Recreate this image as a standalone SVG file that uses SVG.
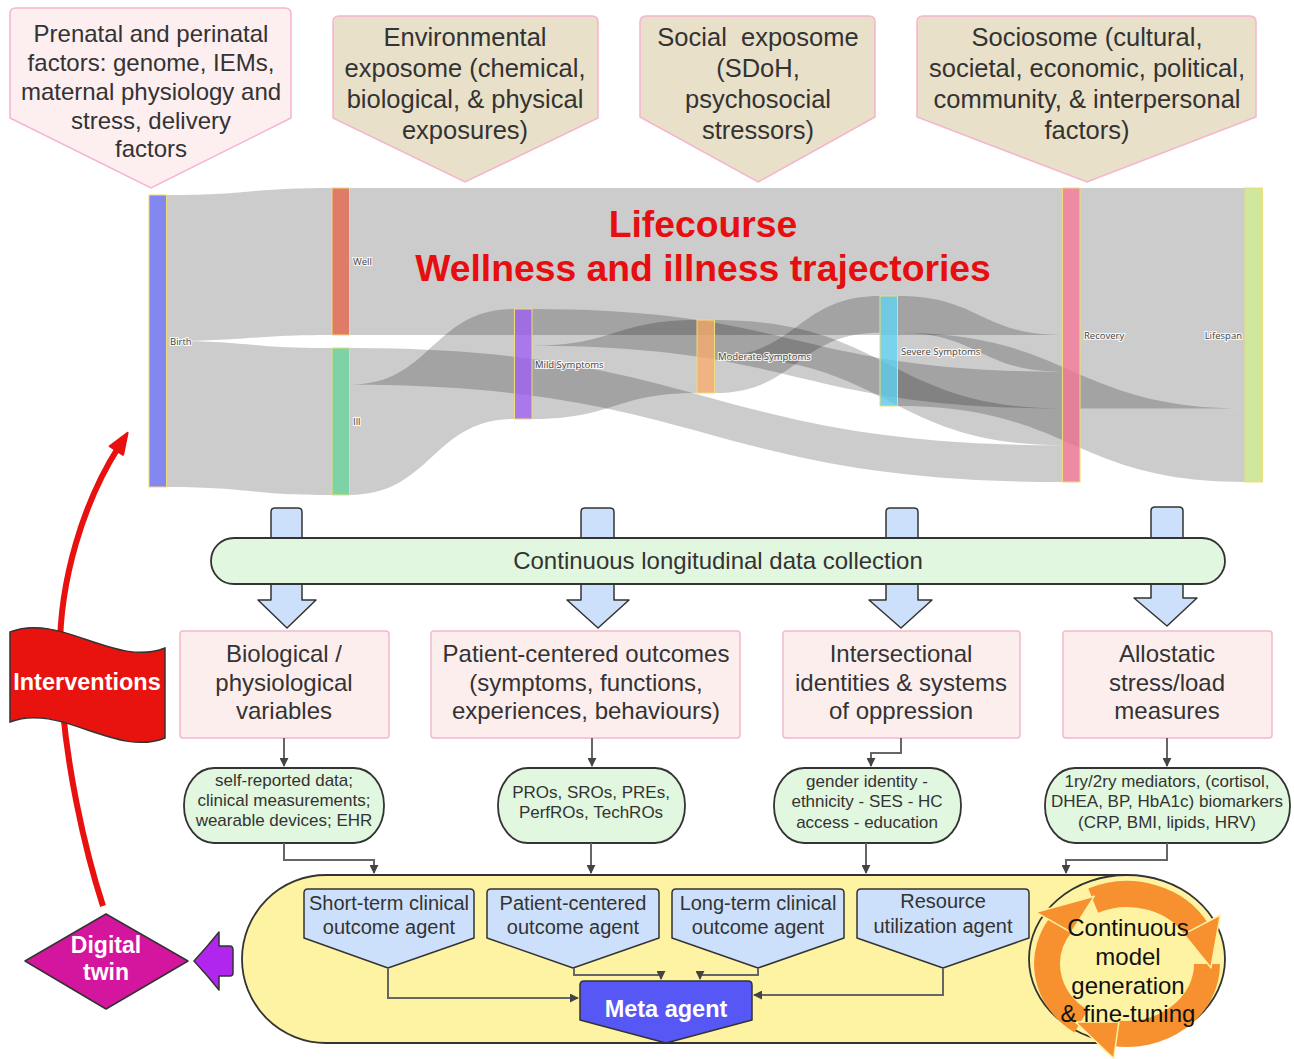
<svg xmlns="http://www.w3.org/2000/svg" width="1294" height="1059" viewBox="0 0 1294 1059">
<defs>
<style>
.t{font-family:"Liberation Sans",Arial,sans-serif;fill:#333;text-anchor:middle}
.hd{font-size:25.5px}
.pk{font-size:24px}
.gn{font-size:17px}
.ag{font-size:20px}
.wb{font-family:"Liberation Sans",Arial,sans-serif;fill:#fff;font-weight:bold;text-anchor:middle}
.lk{fill:rgba(0,0,0,0.2)}
.nd{stroke:#f0dc78;stroke-width:1;fill-opacity:0.8}
.lb{font-family:"Open Sans","DejaVu Sans",sans-serif;font-size:9.5px;fill:#444;stroke:#fff;stroke-width:2.2;stroke-opacity:0.85;paint-order:stroke;dominant-baseline:central}
.hdr2{fill:#e8e0c8;stroke:#f5b5cd;stroke-width:1.5}
.pkbox{fill:#fdeeee;stroke:#f5b8cc;stroke-width:1.5}
.gbox{fill:#e2f7df;stroke:#333;stroke-width:1.8}
.blue{fill:#cde0fb;stroke:#333;stroke-width:1.5;stroke-linejoin:round}
.cn{fill:none;stroke:#666;stroke-width:2}
.oa{fill:none;stroke:#f7912f;stroke-width:26}
.oh{fill:#f7912f;stroke:#fff2a0;stroke-width:1.5;stroke-linejoin:round}
</style>
<marker id="ah" viewBox="0 0 10 10" refX="9" refY="5" markerWidth="9" markerHeight="9" markerUnits="userSpaceOnUse" orient="auto">
<path d="M0,0 L10,5 L0,10 Z" fill="#444"/>
</marker>
</defs>
<rect width="1294" height="1059" fill="#fff"/>

<!-- Header callouts -->
<g id="prenatal">
<path d="M16,8 H285 Q291,8 291,14 V118 L151,188 L10,118 V14 Q10,8 16,8 Z" fill="#fdeef0" stroke="#f5b5cd" stroke-width="1.5"/>
<text class="t" font-size="24" x="151" y="42">Prenatal and perinatal</text>
<text class="t" font-size="24" x="151" y="71">factors: genome, IEMs,</text>
<text class="t" font-size="24" x="151" y="99.5">maternal physiology and</text>
<text class="t" font-size="24" x="151" y="128.5">stress, delivery</text>
<text class="t" font-size="24" x="151" y="157">factors</text>
</g>
<g id="environmental">
<path class="hdr2" d="M339,16 H592 Q598,16 598,22 V118 L465,182 L333,118 V22 Q333,16 339,16 Z"/>
<text class="t hd" x="465" y="46">Environmental</text>
<text class="t hd" x="465" y="77">exposome (chemical,</text>
<text class="t hd" x="465" y="108">biological, &amp; physical</text>
<text class="t hd" x="465" y="139">exposures)</text>
</g>
<g id="social">
<path class="hdr2" d="M646,16 H869 Q875,16 875,22 V117 L758,182 L640,117 V22 Q640,16 646,16 Z"/>
<text class="t hd" x="758" y="46" xml:space="preserve">Social  exposome</text>
<text class="t hd" x="758" y="77">(SDoH,</text>
<text class="t hd" x="758" y="108">psychosocial</text>
<text class="t hd" x="758" y="139">stressors)</text>
</g>
<g id="sociosome">
<path class="hdr2" d="M923,16 H1250 Q1256,16 1256,22 V117 L1087,182 L917,117 V22 Q917,16 923,16 Z"/>
<text class="t hd" x="1087" y="46">Sociosome (cultural,</text>
<text class="t hd" x="1087" y="77">societal, economic, political,</text>
<text class="t hd" x="1087" y="108">community, &amp; interpersonal</text>
<text class="t hd" x="1087" y="139">factors)</text>
</g>

<!-- Sankey -->
<g id="sankey-links">
<path class="lk" d="M166.5,195 C249,195 249,188 332,188 L332,335 C249,335 249,341 166.5,341 Z"/>
<path class="lk" d="M166.5,341 C249,341 249,348 332,348 L332,495 C249,495 249,487 166.5,487 Z"/>
<path class="lk" d="M349.5,188 L1062.5,188 L1062.5,335 L349.5,335 Z"/>
<path class="lk" d="M349.5,348 C706,348 706,445.25 1062.5,445.25 L1062.5,482 C706,482 706,384.75 349.5,384.75 Z"/>
<path class="lk" d="M349.5,384.75 C432,384.75 432,309 514.5,309 L514.5,419 C432,419 432,495 349.5,495 Z"/>
<path class="lk" d="M532,309 C797.25,309 797.25,371.75 1062.5,371.75 L1062.5,408.5 C797.25,408.5 797.25,345.7 532,345.7 Z"/>
<path class="lk" d="M532,345.7 C614.5,345.7 614.5,320 697,320 L697,393 C614.5,393 614.5,419 532,419 Z"/>
<path class="lk" d="M714.5,320 C888.5,320 888.5,408.5 1062.5,408.5 L1062.5,445.25 C888.5,445.25 888.5,356.5 714.5,356.5 Z"/>
<path class="lk" d="M714.5,356.5 C797.25,356.5 797.25,296 880,296 L880,332.7 C797.25,332.7 797.25,393 714.5,393 Z"/>
<path class="lk" d="M897.5,296 C980,296 980,335 1062.5,335 L1062.5,371.75 C980,371.75 980,332.7 897.5,332.7 Z"/>
<path class="lk" d="M897.5,332.7 C1071.25,332.7 1071.25,408.5 1245,408.5 L1245,482 C1071.25,482 1071.25,406 897.5,406 Z"/>
<path class="lk" d="M1080,188 L1245,188 L1245,408.5 L1080,408.5 Z"/>
</g>
<g id="sankey-nodes">
<rect class="nd" x="149" y="195" width="17.5" height="292" fill="#6669ec"/>
<rect class="nd" x="332" y="188" width="17.5" height="147" fill="#d85a42"/>
<rect class="nd" x="332" y="348" width="17.5" height="147" fill="#5ec890"/>
<rect class="nd" x="514.5" y="309" width="17.5" height="110" fill="#9356e5"/>
<rect class="nd" x="697" y="320" width="17.5" height="73" fill="#eca163"/>
<rect class="nd" x="880" y="296" width="17.5" height="110" fill="#57c8e5"/>
<rect class="nd" x="1062.5" y="188" width="17.5" height="294" fill="#ea6d8d"/>
<rect class="nd" x="1245" y="188" width="17.5" height="294" fill="#c3e283"/>
<text class="lb" x="170" y="341">Birth</text>
<text class="lb" x="353" y="261.5">Well</text>
<text class="lb" x="353" y="421.5">Ill</text>
<text class="lb" x="535" y="364">Mild Symptoms</text>
<text class="lb" x="718" y="356.5">Moderate Symptoms</text>
<text class="lb" x="901" y="351">Severe Symptoms</text>
<text class="lb" x="1084" y="335">Recovery</text>
<text class="lb" x="1242" y="335" text-anchor="end">Lifespan</text>
</g>
<g id="title">
<text x="703" y="237" font-family="Liberation Sans, Arial, sans-serif" font-size="37.3" font-weight="bold" fill="#e60e0e" text-anchor="middle">Lifecourse</text>
<text x="703" y="281" font-family="Liberation Sans, Arial, sans-serif" font-size="37.3" font-weight="bold" fill="#e60e0e" text-anchor="middle">Wellness and illness trajectories</text>
</g>

<!-- Block arrows -->
<g id="block-arrows">
<path class="blue" d="M271,512 Q271,508 275,508 H298 Q302,508 302,512 V600 H316 L287,628 L258,600 H271 Z"/>
<path class="blue" d="M581,512 Q581,508 585,508 H610 Q614,508 614,512 V600 H629 L598,628 L567,600 H581 Z"/>
<path class="blue" d="M886,512 Q886,508 890,508 H914 Q918,508 918,512 V600 H932 L901,628 L869,600 H886 Z"/>
<path class="blue" d="M1151,511 Q1151,507 1155,507 H1179 Q1183,507 1183,511 V598 H1197 L1167,626 L1134,598 H1151 Z"/>
</g>
<g id="data-collection">
<rect x="211" y="538" width="1014" height="46" rx="23" class="gbox" stroke-width="2"/>
<text class="t" font-size="24" x="718" y="569">Continuous longitudinal data collection</text>
</g>

<!-- Pink boxes -->
<g id="biological">
<rect class="pkbox" x="180" y="631" width="209" height="107" rx="3"/>
<text class="t pk" x="284" y="662">Biological /</text>
<text class="t pk" x="284" y="691">physiological</text>
<text class="t pk" x="284" y="719">variables</text>
</g>
<g id="patient-outcomes">
<rect class="pkbox" x="431" y="631" width="309" height="107" rx="3"/>
<text class="t pk" x="586" y="662">Patient-centered outcomes</text>
<text class="t pk" x="586" y="691">(symptoms, functions,</text>
<text class="t pk" x="586" y="719">experiences, behaviours)</text>
</g>
<g id="intersectional">
<rect class="pkbox" x="783" y="631" width="237" height="107" rx="3"/>
<text class="t pk" x="901" y="662">Intersectional</text>
<text class="t pk" x="901" y="691">identities &amp; systems</text>
<text class="t pk" x="901" y="719">of oppression</text>
</g>
<g id="allostatic">
<rect class="pkbox" x="1063" y="631" width="209" height="107" rx="3"/>
<text class="t pk" x="1167" y="662">Allostatic</text>
<text class="t pk" x="1167" y="691">stress/load</text>
<text class="t pk" x="1167" y="719">measures</text>
</g>

<!-- Green detail nodes -->
<g id="bio-detail">
<rect class="gbox" x="184" y="768" width="200" height="75" rx="30" ry="37"/>
<text class="t gn" x="284" y="786">self-reported data;</text>
<text class="t gn" x="284" y="806">clinical measurements;</text>
<text class="t gn" x="284" y="826">wearable devices; EHR</text>
</g>
<g id="pro-detail">
<rect class="gbox" x="498" y="768" width="187" height="75" rx="30" ry="37"/>
<text class="t gn" x="591" y="798">PROs, SROs, PREs,</text>
<text class="t gn" x="591" y="818">PerfROs, TechROs</text>
</g>
<g id="identity-detail">
<rect class="gbox" x="774" y="768" width="187" height="75" rx="30" ry="37"/>
<text class="t gn" x="867" y="787">gender identity -</text>
<text class="t gn" x="867" y="807">ethnicity - SES - HC</text>
<text class="t gn" x="867" y="828">access - education</text>
</g>
<g id="allostatic-detail">
<rect class="gbox" x="1045" y="768" width="245" height="75" rx="30" ry="37"/>
<text class="t gn" x="1167" y="787">1ry/2ry mediators, (cortisol,</text>
<text class="t gn" x="1167" y="807">DHEA, BP, HbA1c) biomarkers</text>
<text class="t gn" x="1167" y="828">(CRP, BMI, lipids, HRV)</text>
</g>

<!-- Yellow container -->
<g id="agents-container">
<path d="M326,875 H1127 V1043 H326 A84,84 0 0 1 326,875 Z" fill="#fef3a2" stroke="#333" stroke-width="1.8"/>
</g>

<!-- Continuous model generation -->
<g id="model-generation">
<ellipse cx="1127" cy="959" rx="98" ry="84" fill="#fef3a2" stroke="#333" stroke-width="1.8"/>
<path class="oa" d="M1081.1,1021.3 A80,70 0 0 1 1062.3,922.9"/>
<path class="oa" d="M1093.2,900.6 A80,70 0 0 1 1197.6,931.1"/>
<path class="oa" d="M1207,964 A80,70 0 0 1 1113.1,1032.9"/>
<path class="oh" d="M1071.3,932.4 L1035.7,912.2 L1094.2,896.3 Z"/>
<path class="oh" d="M1183.9,934.1 L1220.3,915 L1210.9,967.8 Z"/>
<path class="oh" d="M1118.9,1021.7 L1113.7,1058.5 L1075.3,1021.9 Z"/>
<text class="t" font-size="24" style="fill:#111" x="1128" y="936">Continuous</text>
<text class="t" font-size="24" style="fill:#111" x="1128" y="965">model</text>
<text class="t" font-size="24" style="fill:#111" x="1128" y="994">generation</text>
<text class="t" font-size="24" style="fill:#111" x="1128" y="1022">&amp; fine-tuning</text>
</g>

<!-- Agents -->
<g id="short-term-agent">
<path class="blue" d="M308,889 H470 Q474,889 474,893 V938 L388,968 L304,938 V893 Q304,889 308,889 Z"/>
<text class="t ag" x="389" y="910">Short-term clinical</text>
<text class="t ag" x="389" y="934">outcome agent</text>
</g>
<g id="patient-agent">
<path class="blue" d="M491,889 H655 Q659,889 659,893 V938 L573,968 L487,938 V893 Q487,889 491,889 Z"/>
<text class="t ag" x="573" y="910">Patient-centered</text>
<text class="t ag" x="573" y="934">outcome agent</text>
</g>
<g id="long-term-agent">
<path class="blue" d="M676,889 H840 Q844,889 844,893 V938 L758,968 L672,938 V893 Q672,889 676,889 Z"/>
<text class="t ag" x="758" y="910">Long-term clinical</text>
<text class="t ag" x="758" y="934">outcome agent</text>
</g>
<g id="resource-agent">
<path class="blue" d="M861,889 H1025 Q1029,889 1029,893 V938 L943,968 L857,938 V893 Q857,889 861,889 Z"/>
<text class="t ag" x="943" y="908">Resource</text>
<text class="t ag" x="943" y="933">utilization agent</text>
</g>
<g id="meta-agent">
<path d="M584,981 H748 Q752,981 752,985 V1020 L666,1043 L580,1020 V985 Q580,981 584,981 Z" fill="#5757f5" stroke="#333" stroke-width="1.5" stroke-linejoin="round"/>
<text class="wb" font-size="23.5" x="666" y="1017">Meta agent</text>
</g>

<!-- Digital twin, interventions -->
<g id="digital-twin">
<path d="M106,914 L188,961 L106,1009 L25,961 Z" fill="#d4159e" stroke="#333" stroke-width="1.5" stroke-linejoin="round"/>
<text class="wb" font-size="23" x="106" y="953">Digital</text>
<text class="wb" font-size="23" x="106" y="980">twin</text>
</g>
<g id="feedback-arrow">
<path d="M194,961 Q207,947 219,932 V946 H230 Q233,946 233,950 V973 Q233,976 230,976 H219 V990 Q207,975 194,961 Z" fill="#b026ee" stroke="#333" stroke-width="1.5" stroke-linejoin="round"/>
</g>

<g id="connectors">
<path class="cn" d="M284,738 V766" marker-end="url(#ah)"/>
<path class="cn" d="M592,738 V766" marker-end="url(#ah)"/>
<path class="cn" d="M901,738 V753 H871 V766" marker-end="url(#ah)"/>
<path class="cn" d="M1167,738 V766" marker-end="url(#ah)"/>
<path class="cn" d="M284,843 V860 H374 V873" marker-end="url(#ah)"/>
<path class="cn" d="M591,843 V873" marker-end="url(#ah)"/>
<path class="cn" d="M866,843 V873" marker-end="url(#ah)"/>
<path class="cn" d="M1167,843 V860 H1066 V873" marker-end="url(#ah)"/>
<path class="cn" d="M388,968 V998 H578" marker-end="url(#ah)"/>
<path class="cn" d="M574,968 V975 H661 V979" marker-end="url(#ah)"/>
<path class="cn" d="M758,968 V975 H700 V979" marker-end="url(#ah)"/>
<path class="cn" d="M943,968 V995 H754" marker-end="url(#ah)"/>
<path d="M103,906 C88,860 62,760 60,660 C58,580 85,500 118,448" fill="none" stroke="#e8110f" stroke-width="6"/>
<path d="M127.6,432.8 L123.1,454.8 L109.6,446.2 Z" fill="#e8110f" stroke="#e8110f" stroke-width="2" stroke-linejoin="round"/>
</g>

<g id="interventions">
<path d="M10,632 C60,612 115,668 165,648 L165,738 C115,758 60,702 10,722 Z" fill="#e8130f" stroke="#333" stroke-width="1.5"/>
<text class="wb" font-size="23.5" x="87" y="690">Interventions</text>
</g>
</svg>
